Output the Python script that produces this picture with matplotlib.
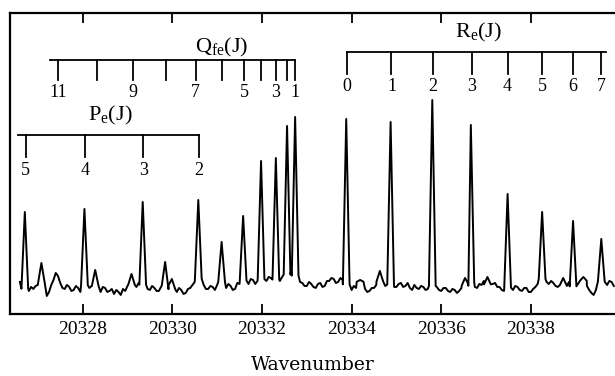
import numpy as np
import matplotlib.pyplot as plt
import matplotlib.transforms as mtransforms

plt.rcParams['font.family'] = ['Liberation Serif', 'DejaVu Serif']
plt.rcParams['mathtext.fontset'] = 'custom'
plt.rcParams['mathtext.rm'] = 'Liberation Serif'
plt.rcParams['mathtext.it'] = 'Liberation Serif:italic'

# spectrum: baseline read every 0.05 cm-1 starting at 20326.6
base_start = 20326.6
base_step = 0.05
baseline = [3.2, 2.7, 2.6, 2.2, 2.3, 2.7, 2.5, 2.8,
            2.9, 3.2, 3.0, 2.7, 1.8, 2.2, 2.9, 3.4, 4.1, 3.8,
            3.1, 2.6, 2.5, 2.9, 2.7, 2.3, 2.4, 2.8, 2.6, 2.2,
            2.4, 3.0, 3.0, 2.6, 2.8, 3.1, 2.6, 2.3, 2.2, 2.7,
            2.6, 2.2, 2.3, 2.5, 2.0, 2.4, 2.2, 1.9, 2.5, 2.3,
            2.8, 2.5, 3.0, 2.7, 2.7, 3.1, 3.0, 2.9, 2.9, 2.5,
            2.4, 2.8, 2.6, 2.3, 2.3, 2.7, 2.6, 2.9, 2.9, 2.4,
            2.5, 2.8, 2.2, 2.6, 2.4, 2.0, 2.1, 2.5, 2.6, 2.9,
            3.2, 3.6, 3.5, 3.0, 2.9, 2.5, 2.5, 2.8, 2.7, 2.4,
            2.9, 2.6, 3.2, 2.8, 2.6, 3.0, 2.8, 2.4, 2.5, 3.1,
            3.0, 3.4, 3.3, 2.9, 3.0, 3.5, 3.4, 3.0, 3.3, 3.6,
            3.4, 3.1, 3.3, 3.7, 3.6, 3.3, 3.5, 3.2, 3.3, 3.7,
            3.6, 3.9, 4.1, 4.3, 4.0, 3.8, 3.4, 3.2, 3.1, 2.8,
            2.8, 3.2, 3.0, 2.7, 2.6, 3.0, 3.1, 2.7, 2.8, 3.3,
            3.3, 3.6, 3.5, 3.1, 3.2, 3.6, 3.4, 2.9, 3.0, 2.6,
            2.4, 2.8, 2.6, 2.9, 3.3, 2.7, 2.5, 2.2, 2.3, 2.6,
            2.6, 2.9, 3.0, 3.4, 3.1, 2.8, 3.2, 2.9, 3.0, 2.7,
            2.7, 3.0, 3.1, 2.7, 2.8, 3.1, 2.6, 2.4, 2.9, 2.6,
            2.5, 2.8, 2.7, 2.4, 2.5, 2.8, 2.8, 2.5, 2.7, 2.4,
            2.3, 2.6, 2.6, 2.3, 2.2, 2.5, 2.4, 2.1, 2.3, 2.6,
            2.7, 2.9, 2.9, 3.2, 3.0, 2.7, 2.6, 3.0, 2.9, 3.3,
            3.2, 2.8, 2.6, 3.0, 3.1, 2.7, 2.7, 2.4, 2.3, 2.7,
            2.6, 2.3, 2.4, 2.8, 2.7, 2.4, 2.3, 2.6, 2.6, 2.2,
            2.2, 2.5, 2.7, 3.0, 3.2, 3.5, 3.6, 3.2, 3.0, 3.3,
            3.1, 2.8, 2.7, 3.1, 3.0, 2.7, 2.8, 3.2, 3.0, 2.7,
            2.6, 3.0, 2.9, 3.4, 3.2, 2.8, 2.4, 2.1, 1.9, 2.4,
            2.8, 3.1, 3.5, 3.2, 2.9, 3.3, 3.2, 2.8]

# line centres (cm-1) and peak intensities (arb. units)
peak_pos = [20326.71, 20327.08, 20328.04, 20328.28, 20329.09, 20329.34,
            20329.84, 20329.99, 20330.58, 20331.10, 20331.58, 20331.98,
            20332.31, 20332.56, 20332.74, 20333.88, 20334.19, 20334.63,
            20334.87, 20335.80, 20336.53, 20336.66, 20337.03, 20337.48,
            20338.25, 20338.72, 20338.94, 20339.17, 20339.57]
peak_height = [10.2, 5.1, 10.5, 4.4, 4.0, 11.2,
               5.2, 3.5, 11.4, 7.2, 9.8, 15.3,
               15.6, 18.8, 19.7, 19.5, 3.4, 4.3,
               19.2, 21.4, 3.6, 18.9, 3.7, 12.0,
               10.2, 3.6, 9.3, 3.7, 7.5]

# assignment combs
P_J = [5, 4, 3, 2]
P_pos = [20326.73, 20328.05, 20329.35, 20330.59]
Q_J = [11, 10, 9, 8, 7, 6, 5, 4, 3, 2, 1]
Q_pos = [20327.46, 20328.31, 20329.12, 20329.85, 20330.52, 20331.10,
         20331.61, 20331.98, 20332.31, 20332.56, 20332.74]
R_J = [0, 1, 2, 3, 4, 5, 6, 7]
R_pos = [20333.89, 20334.89, 20335.81, 20336.68, 20337.48, 20338.25,
         20338.94, 20339.56]

xticks = [20328, 20330, 20332, 20334, 20336, 20338]

# build trace
base_x = base_start + base_step * np.arange(len(baseline))
base_y = np.array(baseline)
half = 0.075
keep = np.array([all(abs(x - p) > half for p in peak_pos) for x in base_x])
xs = list(base_x[keep])
ys = list(base_y[keep])
for p, h in zip(peak_pos, peak_height):
    b = np.interp(p, base_x, base_y)
    xs += [p - half, p, p + half]
    ys += [b, h, b]
order = np.argsort(xs)
xs = np.array(xs)[order]
ys = np.array(ys)[order]

fig = plt.figure(figsize=(6.15, 3.76), dpi=100)
ax = fig.add_axes([0.0163, 0.165, 0.984, 0.8005])
ax.plot(xs, ys, color='black', lw=1.4)

ax.set_xlim(20326.38, 20339.88)
ax.set_ylim(0, 30.1)
ax.set_yticks([])
ax.set_xticks(xticks)
ax.set_xticklabels([str(t) for t in xticks], fontsize=14)
ax.tick_params(axis='x', direction='in', top=True, length=7, width=1.3, pad=5)
for s in ['left', 'bottom', 'top']:
    ax.spines[s].set_linewidth(1.6)
ax.spines['right'].set_visible(False)
ax.set_xlabel('Wavenumber', fontsize=13.5, family='DejaVu Serif', labelpad=13)

trans = mtransforms.blended_transform_factory(ax.transData, ax.transAxes)


def comb(pos, js, shown, y_line, tick_len, y_lab, ext_left, ext_right,
         title, tx, ty):
    ax.plot([min(pos) - ext_left, max(pos) + ext_right], [y_line, y_line],
            color='black', lw=1.3, transform=trans, clip_on=False)
    for p, j in zip(pos, js):
        ax.plot([p, p], [y_line, y_line - tick_len], color='black', lw=1.3,
                transform=trans, clip_on=False)
        if j in shown:
            ax.text(p, y_lab, str(j), transform=trans, ha='center',
                    va='center', fontsize=13)
    ax.text(tx, ty, title, transform=trans, ha='center', va='center',
            fontsize=16)


comb(Q_pos, Q_J, [11, 9, 7, 5, 3, 1], 0.844, 0.067, 0.735, 0.18, 0.0,
     r'Q$_{\rm fe}$(J)', 20331.10, 0.885)
comb(P_pos, P_J, P_J, 0.595, 0.073, 0.475, 0.17, 0.0,
     r'P$_{\rm e}$(J)', 20328.61, 0.66)
comb(R_pos, R_J, R_J, 0.871, 0.074, 0.755, 0.0, 0.11,
     r'R$_{\rm e}$(J)', 20336.82, 0.935)

fig.savefig('out.png', dpi=100)
